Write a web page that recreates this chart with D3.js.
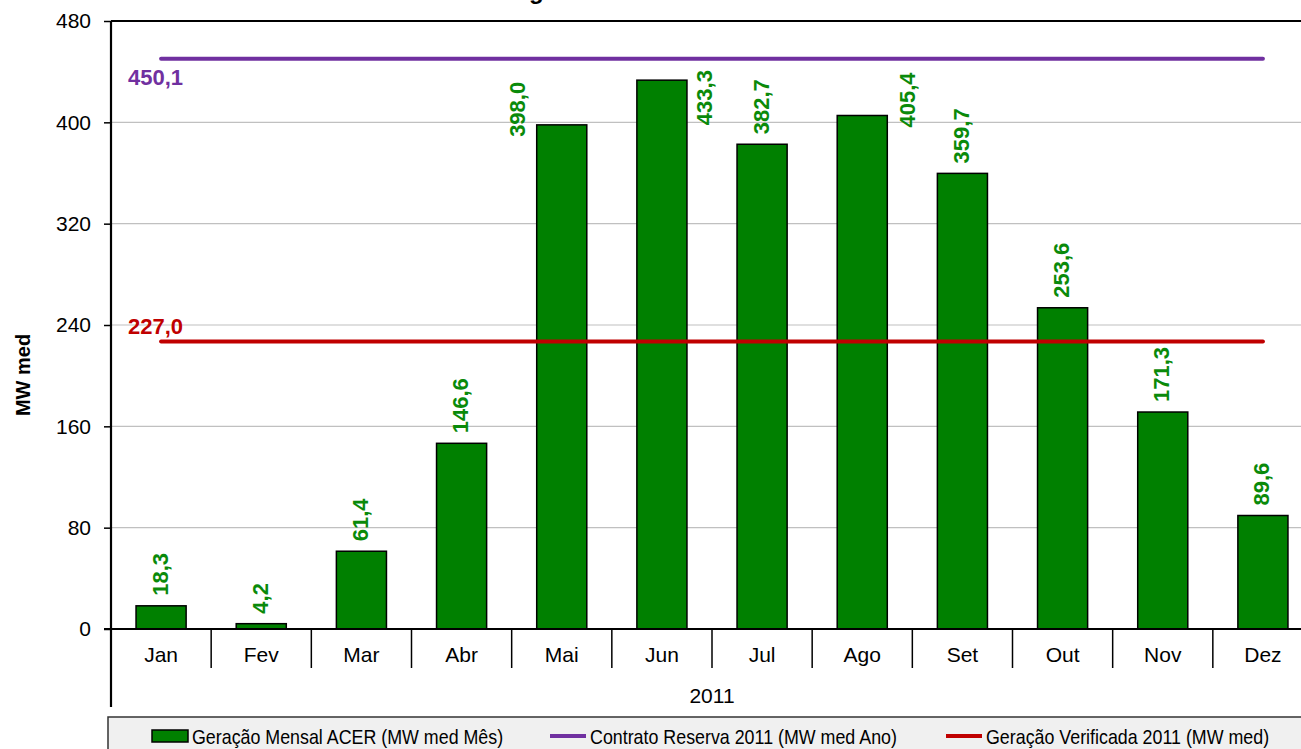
<!DOCTYPE html>
<html>
<head>
<meta charset="utf-8">
<script src="https://cdn.jsdelivr.net/npm/d3@7/dist/d3.min.js"></script>
<style>
  html, body { margin: 0; padding: 0; background: #fff; }
  svg { display: block; font-family: "Liberation Sans", Arial, sans-serif; }
</style>
</head>
<body>
<svg id="chart" width="1301" height="749"></svg>
<script>
// Monthly generation, 2011
const months = ["Jan", "Fev", "Mar", "Abr", "Mai", "Jun", "Jul", "Ago", "Set", "Out", "Nov", "Dez"];
const generation = [18.3, 4.2, 61.4, 146.6, 398.0, 433.3, 382.7, 405.4, 359.7, 253.6, 171.3, 89.6];
const contractReserve = 450.1;
const verifiedGeneration = 227.0;
const yTicks = [0, 80, 160, 240, 320, 400, 480];
const yearLabel = "2011";
const legendLabels = [
  "Geração Mensal ACER (MW med Mês)",
  "Contrato Reserva 2011 (MW med Ano)",
  "Geração Verificada 2011 (MW med)"
];

const colors = { bar: "#008000", contract: "#7030a0", verified: "#c00000", label: "#0a8a0a" };

const svg = d3.select("#chart");
const W = 1301, H = 749;
const plot = { left: 111, right: 1313, top: 21, bottom: 629 };

svg.append("rect").attr("width", W).attr("height", H).attr("fill", "#fff");

const x = d3.scaleBand()
  .domain(months)
  .range([plot.left, plot.right])
  .paddingInner(0.5)
  .paddingOuter(0.25);

const y = d3.scaleLinear().domain([0, 480]).range([plot.bottom, plot.top]);

const ptBR = d3.formatLocale({ decimal: ",", thousands: ".", grouping: [3], currency: ["R$", ""] });
const fmt = ptBR.format(".1f");

// Title (sits above the top edge; only its descender reaches into view)
const title = svg.append("text")
  .attr("y", -1)
  .attr("font-size", 24)
  .attr("font-weight", "bold")
  .attr("fill", "#000")
  .text("Energia Mensal ACER 2011");
title.attr("x", 529 - title.node().getSubStringLength(0, 4));

// Horizontal gridlines
svg.append("g")
  .selectAll("line")
  .data(yTicks.filter(t => t > 0 && t < 480))
  .join("line")
  .attr("x1", plot.left).attr("x2", plot.right)
  .attr("y1", d => y(d)).attr("y2", d => y(d))
  .attr("stroke", "#c0c0c0").attr("stroke-width", 1.2);

// Top border of the plot area
svg.append("line")
  .attr("x1", plot.left).attr("x2", plot.right)
  .attr("y1", y(480)).attr("y2", y(480))
  .attr("stroke", "#000").attr("stroke-width", 2);

// Bars
svg.append("g")
  .selectAll("rect")
  .data(months.map((m, i) => ({ m, v: generation[i] })))
  .join("rect")
  .attr("x", d => x(d.m))
  .attr("width", x.bandwidth())
  .attr("y", d => y(d.v))
  .attr("height", d => y(0) - y(d.v))
  .attr("fill", colors.bar)
  .attr("stroke", "#000")
  .attr("stroke-width", 1.5);

// Reference lines
const xFirst = x(months[0]) + x.bandwidth() / 2;
const xLast = x(months[months.length - 1]) + x.bandwidth() / 2;
[[contractReserve, colors.contract], [verifiedGeneration, colors.verified]].forEach(([v, c]) => {
  svg.append("line")
    .attr("x1", xFirst).attr("x2", xLast)
    .attr("y1", y(v)).attr("y2", y(v))
    .attr("stroke", c).attr("stroke-width", 4)
    .attr("stroke-linecap", "round");
});

svg.append("text")
  .attr("x", 128).attr("y", y(contractReserve) + 26)
  .attr("font-size", 22).attr("font-weight", "bold")
  .attr("fill", colors.contract)
  .text(fmt(contractReserve));

svg.append("text")
  .attr("x", 128).attr("y", y(verifiedGeneration) - 7.5)
  .attr("font-size", 22).attr("font-weight", "bold")
  .attr("fill", colors.verified)
  .text(fmt(verifiedGeneration));

// Value labels (a few are moved beside their bars to stay clear of the top line)
const labelNudge = {
  Mai: { dx: -43, dy: 22 },
  Jun: { dx: 44, dy: 55 },
  Ago: { dx: 46, dy: 22 }
};
svg.append("g")
  .selectAll("text")
  .data(months.map((m, i) => ({ m, v: generation[i] })))
  .join("text")
  .attr("transform", d => {
    const n = labelNudge[d.m] || { dx: 0, dy: 0 };
    const cx = x(d.m) + x.bandwidth() / 2 - 1 + n.dx;
    const cy = y(d.v) - 10 + n.dy;
    return `translate(${cx},${cy}) rotate(-90)`;
  })
  .attr("dominant-baseline", "central")
  .attr("font-size", 22).attr("font-weight", "bold")
  .attr("fill", colors.label)
  .text(d => fmt(d.v));

// Value axis
const yAxis = svg.append("g")
  .attr("transform", `translate(${plot.left},0)`)
  .call(d3.axisLeft(y).tickValues(yTicks).tickSize(7).tickPadding(13).tickFormat(d3.format("d")));
yAxis.select(".domain").remove();
yAxis.selectAll(".tick line").attr("stroke", "#000").attr("stroke-width", 1.5);
yAxis.selectAll(".tick text")
  .attr("font-size", 21)
  .attr("font-family", "'Liberation Sans', Arial, sans-serif")
  .attr("fill", "#000");

svg.append("text")
  .attr("transform", `translate(23,375) rotate(-90)`)
  .attr("text-anchor", "middle")
  .attr("dominant-baseline", "central")
  .attr("font-size", 20).attr("font-weight", "bold")
  .text("MW med");

// Left axis line, running down through the two-level category axis
svg.append("line")
  .attr("x1", plot.left).attr("x2", plot.left)
  .attr("y1", plot.top).attr("y2", 707)
  .attr("stroke", "#000").attr("stroke-width", 2.2);

// Category axis: baseline, dividers, month names, year
svg.append("line")
  .attr("x1", plot.left - 7).attr("x2", plot.right)
  .attr("y1", y(0)).attr("y2", y(0))
  .attr("stroke", "#000").attr("stroke-width", 2.2);

const dividers = d3.range(1, months.length + 1).map(i => plot.left + i * x.step());
svg.append("g")
  .selectAll("line")
  .data(dividers)
  .join("line")
  .attr("x1", d => d).attr("x2", d => d)
  .attr("y1", y(0)).attr("y2", 668)
  .attr("stroke", "#000").attr("stroke-width", 1.5);

svg.append("g")
  .selectAll("text")
  .data(months)
  .join("text")
  .attr("x", d => x(d) + x.bandwidth() / 2)
  .attr("y", 662)
  .attr("text-anchor", "middle")
  .attr("font-size", 21)
  .text(d => d);

svg.append("text")
  .attr("x", (plot.left + plot.right) / 2)
  .attr("y", 703)
  .attr("text-anchor", "middle")
  .attr("font-size", 21)
  .text(yearLabel);

// Legend
const legend = svg.append("g");
legend.append("rect")
  .attr("x", 108).attr("y", 717)
  .attr("width", 1300).attr("height", 60)
  .attr("fill", "#f0f0f0").attr("stroke", "#333").attr("stroke-width", 1.5);

const legendItems = [
  { kind: "bar", color: colors.bar, x: 152 },
  { kind: "line", color: colors.contract, x: 550 },
  { kind: "line", color: colors.verified, x: 946 }
];
legendItems.forEach((it, i) => {
  if (it.kind === "bar") {
    legend.append("rect")
      .attr("x", it.x).attr("y", 730).attr("width", 36).attr("height", 12)
      .attr("fill", it.color).attr("stroke", "#000").attr("stroke-width", 1.5);
  } else {
    legend.append("line")
      .attr("x1", it.x).attr("x2", it.x + 36)
      .attr("y1", 736).attr("y2", 736)
      .attr("stroke", it.color).attr("stroke-width", 4);
  }
  legend.append("text")
    .attr("transform", `translate(${it.x + 40},744) scale(0.85,1)`)
    .attr("font-size", 21)
    .text(legendLabels[i]);
});
</script>
</body>
</html>
